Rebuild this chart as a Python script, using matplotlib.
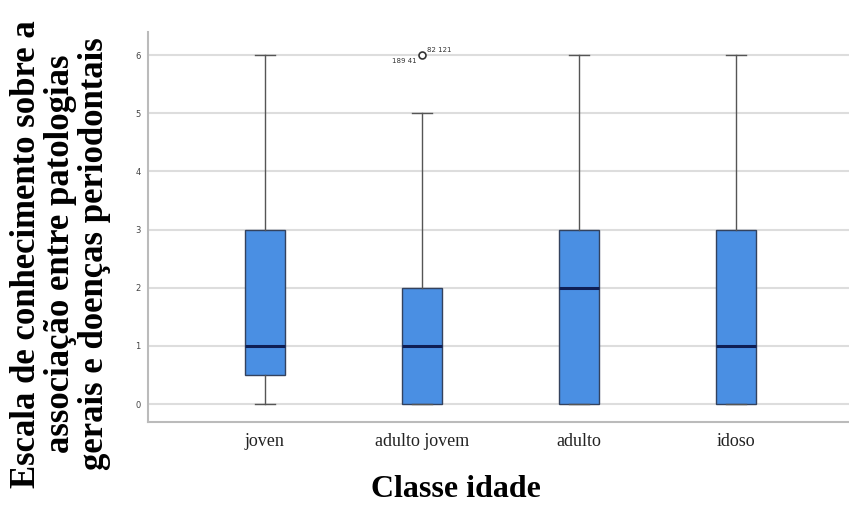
import matplotlib.pyplot as plt

# dados
categorias = ['joven', 'adulto jovem', 'adulto', 'idoso']
minimos = [0, 0, 0, 0]
q1 = [0.5, 0, 0, 0]
medianas = [1, 1, 2, 1]
q3 = [3, 2, 3, 3]
maximos = [6, 5, 6, 6]
outliers = [[], [6], [], []]
rotulos_outlier = {1: ('82 121', '189 41')}

cor_caixa = '#4a8fe3'

fig = plt.figure(figsize=(8.49, 5.13), dpi=100)
ax = fig.add_axes([0.174, 0.177, 0.826, 0.761])

stats = []
for i, nome in enumerate(categorias):
    stats.append({
        'label': nome,
        'whislo': minimos[i],
        'q1': q1[i],
        'med': medianas[i],
        'q3': q3[i],
        'whishi': maximos[i],
        'fliers': outliers[i],
    })

ax.bxp(stats, positions=range(1, len(categorias) + 1), widths=0.255,
       patch_artist=True, showfliers=True,
       boxprops=dict(facecolor=cor_caixa, edgecolor='#33425e', linewidth=1),
       medianprops=dict(color='#0f1f55', linewidth=2.2),
       whiskerprops=dict(color='#555555', linewidth=1),
       capprops=dict(color='#555555', linewidth=1),
       capwidths=0.13,
       flierprops=dict(marker='o', markersize=5, markerfacecolor='white',
                       markeredgecolor='#333333', markeredgewidth=1.2))

# rótulos dos outliers
for i, (acima, abaixo) in rotulos_outlier.items():
    for y in outliers[i]:
        ax.text(i + 1 + 0.03, y + 0.03, acima, fontsize=5, color='#333333',
                ha='left', va='bottom')
        ax.text(i + 1 - 0.03, y - 0.05, abaixo, fontsize=5, color='#333333',
                ha='right', va='top')

ax.set_xlim(0.255, 4.72)
ax.set_ylim(-0.31, 6.4)
ax.set_yticks(range(0, 7))
ax.tick_params(axis='y', labelsize=6, length=0, colors='#444444', pad=5)
ax.tick_params(axis='x', length=0, pad=8)
for lbl in ax.get_xticklabels():
    lbl.set_fontfamily('Liberation Serif')
    lbl.set_fontsize(13)
    lbl.set_color('#222222')

ax.yaxis.grid(True, color='#dddddd', linewidth=1.5)
ax.set_axisbelow(True)
for s in ['top', 'right']:
    ax.spines[s].set_visible(False)
for s in ['left', 'bottom']:
    ax.spines[s].set_color('#bbbbbb')
    ax.spines[s].set_linewidth(1.5)

ax.set_xlabel('Classe idade', fontfamily='Liberation Serif', fontsize=23,
              fontweight='bold')
ax.xaxis.set_label_coords(0.44, -0.135)
fig.text(0.071, 0.505, 'Escala de conhecimento sobre a\nassociação entre patologias\ngerais e doenças periodontais',
         rotation=90, ha='center', va='center', fontfamily='Liberation Serif',
         fontsize=25, fontweight='bold', linespacing=1.05)

fig.savefig('out.png', dpi=100)
